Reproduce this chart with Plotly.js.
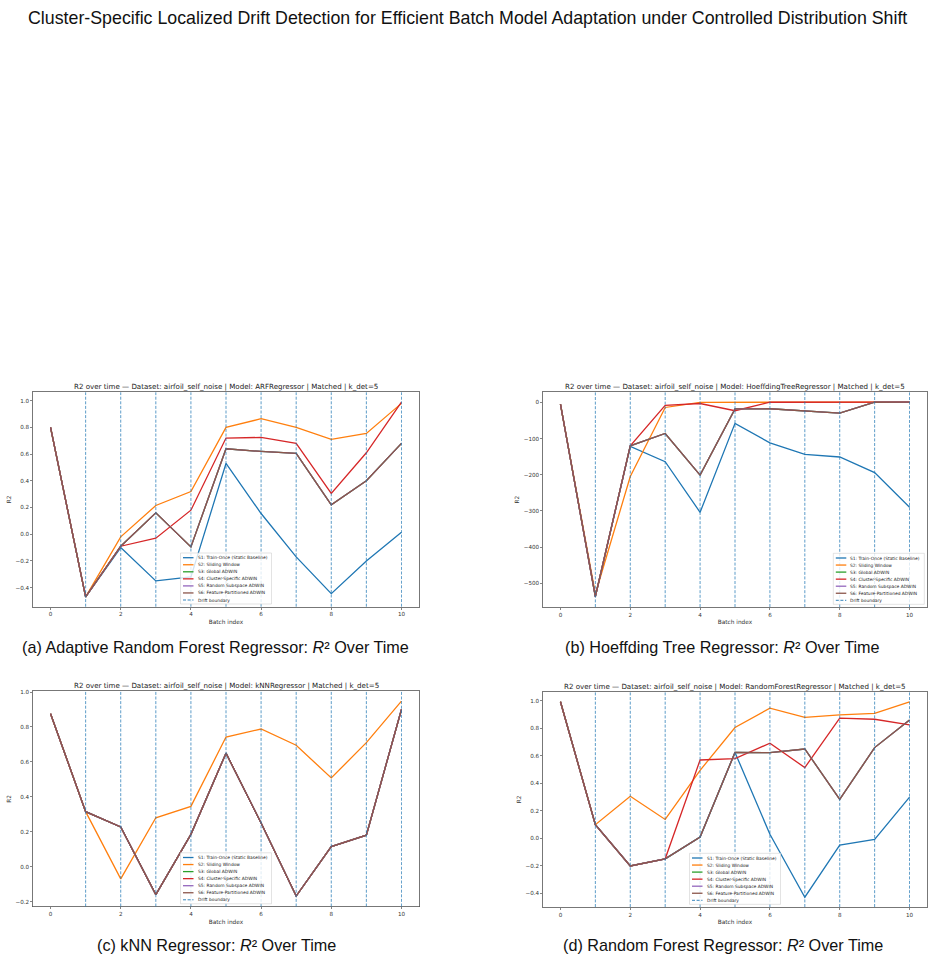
<!DOCTYPE html>
<html>
<head>
<meta charset="utf-8">
<script src="https://cdn.plot.ly/plotly-3.0.1.min.js"></script>
<style>html,body{margin:0;padding:0;background:#fff;}#chart{width:934px;height:960px;}</style>
</head>
<body>
<div id="chart"></div>
<script>
// ---------------- DATA ----------------
const batches = [0, 1, 2, 3, 4, 5, 6, 7, 8, 9, 10];
const driftBoundaries = [1, 2, 3, 4, 5, 6, 7, 8, 9, 10];
const seriesNames = [
  'S1: Train-Once (Static Baseline)',
  'S2: Sliding Window',
  'S3: Global ADWIN',
  'S4: Cluster-Specific ADWIN',
  'S5: Random Subspace ADWIN',
  'S6: Feature-Partitioned ADWIN'
];
const driftName = 'Drift boundary';
const mainTitle = 'Cluster-Specific Localized Drift Detection for Efficient Batch Model Adaptation under Controlled Distribution Shift';
const panelTitles = [
  'R2 over time — Dataset: airfoil_self_noise | Model: ARFRegressor | Matched | k_det=5',
  'R2 over time — Dataset: airfoil_self_noise | Model: HoeffdingTreeRegressor | Matched | k_det=5',
  'R2 over time — Dataset: airfoil_self_noise | Model: kNNRegressor | Matched | k_det=5',
  'R2 over time — Dataset: airfoil_self_noise | Model: RandomForestRegressor | Matched | k_det=5'
];
const captionTexts = [
  '(a) Adaptive Random Forest Regressor: <i>R</i>² Over Time',
  '(b) Hoeffding Tree Regressor: <i>R</i>² Over Time',
  '(c) kNN Regressor: <i>R</i>² Over Time',
  '(d) Random Forest Regressor: <i>R</i>² Over Time'
];
const xLabel = 'Batch index';
const yLabel = 'R2';

// (a) ARFRegressor
const arfS1 = [0.80, -0.47, -0.10, -0.35, -0.32, 0.53, 0.155, -0.17, -0.445, -0.20, 0.015];
const arfS2 = [0.80, -0.47, -0.02, 0.215, 0.32, 0.80, 0.865, 0.80, 0.71, 0.755, 0.98];
const arfS3 = [0.80, -0.47, -0.09, 0.16, -0.095, 0.64, 0.62, 0.605, 0.22, 0.40, 0.68];
const arfS4 = [0.80, -0.47, -0.09, -0.03, 0.18, 0.72, 0.725, 0.68, 0.305, 0.61, 0.99];
const arfS5 = [0.80, -0.47, -0.09, 0.16, -0.095, 0.64, 0.62, 0.605, 0.22, 0.40, 0.68];
const arfS6 = [0.80, -0.47, -0.09, 0.16, -0.095, 0.64, 0.62, 0.605, 0.22, 0.40, 0.68];

// (b) HoeffdingTreeRegressor
const htS1 = [-5, -537, -122, -164, -304, -58, -112, -144, -151, -194, -290];
const htS2 = [-5, -530, -205, -14, 0.3, 0.4, 0.5, 0.5, 0.6, 0.6, 0.7];
const htS3 = [-5, -537, -120, -86, -201, -18, -17.5, -24, -29.5, 0.5, 0.6];
const htS4 = [-5, -537, -120, -8, -3, -23, 0.5, 0.6, 0.6, 0.7, 0.7];
const htS5 = [-5, -537, -120, -86, -201, -18, -17.5, -24, -29.5, 0.5, 0.6];
const htS6 = [-5, -537, -120, -86, -201, -18, -17.5, -24, -29.5, 0.5, 0.6];

// (c) kNNRegressor
const knnS1 = [0.876, 0.315, 0.227, -0.16, 0.185, 0.65, 0.25, -0.168, 0.115, 0.18, 0.90];
const knnS2 = [0.876, 0.315, -0.07, 0.28, 0.345, 0.742, 0.788, 0.695, 0.508, 0.71, 0.948];
const knnS3 = [0.876, 0.315, 0.227, -0.16, 0.185, 0.65, 0.25, -0.168, 0.115, 0.18, 0.90];
const knnS4 = [0.876, 0.315, 0.227, -0.16, 0.185, 0.65, 0.25, -0.168, 0.115, 0.18, 0.90];
const knnS5 = [0.876, 0.315, 0.227, -0.16, 0.185, 0.65, 0.25, -0.168, 0.115, 0.18, 0.90];
const knnS6 = [0.876, 0.315, 0.227, -0.16, 0.185, 0.65, 0.25, -0.168, 0.115, 0.18, 0.90];

// (d) RandomForestRegressor
const rfS1 = [0.993, 0.10, -0.20, -0.148, 0.01, 0.625, 0.03, -0.427, -0.049, -0.007, 0.30];
const rfS2 = [0.993, 0.10, 0.306, 0.138, 0.495, 0.806, 0.947, 0.879, 0.898, 0.908, 0.993];
const rfS3 = [0.993, 0.10, -0.20, -0.148, 0.01, 0.625, 0.624, 0.65, 0.284, 0.66, 0.86];
const rfS4 = [0.993, 0.10, -0.20, -0.148, 0.57, 0.58, 0.692, 0.515, 0.874, 0.866, 0.825];
const rfS5 = [0.993, 0.10, -0.20, -0.148, 0.01, 0.625, 0.624, 0.65, 0.284, 0.66, 0.86];
const rfS6 = [0.993, 0.10, -0.20, -0.148, 0.01, 0.625, 0.624, 0.65, 0.284, 0.66, 0.86];

const panelSeries = [
  [arfS1, arfS2, arfS3, arfS4, arfS5, arfS6],
  [htS1, htS2, htS3, htS4, htS5, htS6],
  [knnS1, knnS2, knnS3, knnS4, knnS5, knnS6],
  [rfS1, rfS2, rfS3, rfS4, rfS5, rfS6]
];

// ---------------- STYLE / LAYOUT ----------------
const W = 934, H = 960;
const colors = ['#1f77b4', '#ff7f0e', '#2ca02c', '#d62728', '#9467bd', '#8c564b'];
const driftColor = '#1f77b4';
// axes boxes in px: left, right, top, bottom
const boxes = [
  {l: 33, r: 419, t: 392.3, b: 606.7},
  {l: 543, r: 927, t: 392.3, b: 607},
  {l: 33, r: 419, t: 691.3, b: 906.5},
  {l: 543, r: 927, t: 692, b: 907}
];
const yRanges = [[-0.543, 1.063], [-566, 28], [-0.228, 1.004], [-0.498, 1.064]];
const yDticks = [0.2, 100, 0.2, 0.2];
const yFormats = ['.1f', 'd', '.1f', '.1f'];
const legendPos = ['center', 'right', 'center', 'center'];
const captionPos = [{x: 215, y: 646.5}, {x: 722.5, y: 646.5}, {x: 216, y: 945}, {x: 722.5, y: 945}];

const innerFont = 'DejaVu Sans, Arial, sans-serif';
const capFont = 'Liberation Sans, Arial, sans-serif';
const px = v => v / W;
const py = v => 1 - v / H;

const data = [];
const shapes = [];
const annotations = [];
const layout = {
  width: W, height: H,
  margin: {l: 0, r: 0, t: 0, b: 0},
  paper_bgcolor: '#fff', plot_bgcolor: '#fff',
  showlegend: false,
  font: {family: innerFont, color: '#222', size: 6}
};

boxes.forEach((bx, p) => {
  const sfx = p === 0 ? '' : String(p + 1);
  const xa = 'x' + sfx, ya = 'y' + sfx;
  layout['xaxis' + sfx] = {
    domain: [px(bx.l), px(bx.r)], anchor: ya, range: [-0.5, 10.5],
    tick0: 0, dtick: 2, ticks: 'outside', ticklen: 2, tickwidth: 0.6, tickcolor: '#333',
    tickfont: {size: 5.6, color: '#333', family: innerFont},
    showgrid: false, zeroline: false, showline: true, mirror: true, linecolor: '#555', linewidth: 0.8,
    title: {text: xLabel, font: {size: 5.8, color: '#333', family: innerFont}, standoff: 3}
  };
  layout['yaxis' + sfx] = {
    domain: [py(bx.b), py(bx.t)], anchor: xa, range: yRanges[p],
    tick0: 0, dtick: yDticks[p], tickformat: yFormats[p],
    ticks: 'outside', ticklen: 2, tickwidth: 0.6, tickcolor: '#333',
    tickfont: {size: 5.6, color: '#333', family: innerFont},
    showgrid: false, zeroline: false, showline: true, mirror: true, linecolor: '#555', linewidth: 0.8,
    title: {text: yLabel, font: {size: 5.8, color: '#333', family: innerFont}, standoff: 3}
  };

  panelSeries[p].forEach((ys, i) => {
    data.push({
      type: 'scatter', mode: 'lines', x: batches, y: ys, name: seriesNames[i],
      xaxis: xa, yaxis: ya, line: {color: colors[i], width: 1.3}, hoverinfo: 'skip'
    });
  });

  driftBoundaries.forEach(d => {
    shapes.push({
      type: 'line', xref: xa, yref: ya + ' domain', x0: d, x1: d, y0: 0, y1: 1,
      line: {color: driftColor, width: 0.9, dash: '3px,1.6px'}, opacity: 0.8, layer: 'above'
    });
  });

  // panel title
  annotations.push({
    xref: 'paper', yref: 'paper', x: px((bx.l + bx.r) / 2), y: py(bx.t - 6),
    text: panelTitles[p], showarrow: false, xanchor: 'center', yanchor: 'middle',
    font: {size: 7.1, color: '#222', family: innerFont}
  });

  // legend (matplotlib style box)
  const lw = 91, lh = 51, pad = 2.7;
  let lx0;
  if (legendPos[p] === 'right') lx0 = bx.r - pad - lw;
  else lx0 = (bx.l + bx.r) / 2 - lw / 2;
  const ly1 = bx.b - pad, ly0 = ly1 - lh;
  shapes.push({
    type: 'rect', xref: 'paper', yref: 'paper', x0: px(lx0), x1: px(lx0 + lw), y0: py(ly1), y1: py(ly0),
    fillcolor: 'rgba(255,255,255,0.8)', line: {color: '#d0d0d0', width: 0.6}, layer: 'above'
  });
  const entries = seriesNames.map((n, i) => ({name: n, color: colors[i], dash: 'solid'}))
    .concat([{name: driftName, color: driftColor, dash: '3px,1.6px'}]);
  entries.forEach((e, k) => {
    const yy = ly0 + 4.7 + k * 7.05;
    shapes.push({
      type: 'line', xref: 'paper', yref: 'paper', x0: px(lx0 + 2.5), x1: px(lx0 + 13), y0: py(yy), y1: py(yy),
      line: {color: e.color, width: e.dash === 'solid' ? 1.3 : 0.9, dash: e.dash}, layer: 'above'
    });
    annotations.push({
      xref: 'paper', yref: 'paper', x: px(lx0 + 15), y: py(yy), text: e.name, showarrow: false,
      xanchor: 'left', yanchor: 'middle', font: {size: 4.4, color: '#222', family: innerFont}
    });
  });

  // caption
  annotations.push({
    xref: 'paper', yref: 'paper', x: px(captionPos[p].x), y: py(captionPos[p].y),
    text: captionTexts[p],
    showarrow: false, xanchor: 'center', yanchor: 'middle',
    font: {size: 16.2, color: '#111', family: capFont}
  });
});

annotations.push({
  xref: 'paper', yref: 'paper', x: 0.5, y: py(18),
  text: mainTitle, showarrow: false, xanchor: 'center', yanchor: 'middle',
  font: {size: 17.8, color: '#111', family: capFont}
});

layout.shapes = shapes;
layout.annotations = annotations;

Plotly.newPlot('chart', data, layout, {staticPlot: true, displayModeBar: false});
</script>
</body>
</html>
